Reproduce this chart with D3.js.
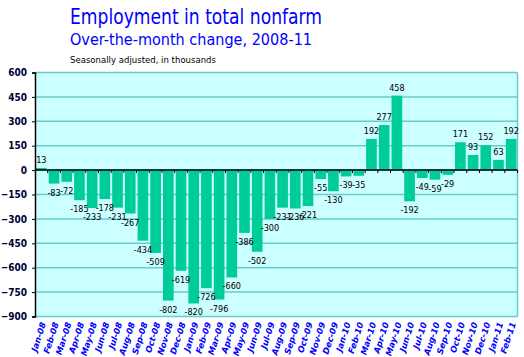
<!DOCTYPE html>
<html><head><meta charset="utf-8">
<script src="https://cdn.jsdelivr.net/npm/d3@7"></script>
<style>body{margin:0;background:#fff}svg{display:block}</style>
</head><body>
<svg id="c" width="524" height="357"></svg>
<script>
const months = ["Jan-08","Feb-08","Mar-08","Apr-08","May-08","Jun-08","Jul-08","Aug-08","Sep-08","Oct-08","Nov-08","Dec-08",
"Jan-09","Feb-09","Mar-09","Apr-09","May-09","Jun-09","Jul-09","Aug-09","Sep-09","Oct-09","Nov-09","Dec-09",
"Jan-10","Feb-10","Mar-10","Apr-10","May-10","Jun-10","Jul-10","Aug-10","Sep-10","Oct-10","Nov-10","Dec-10",
"Jan-11","Feb-11"];
const changes = [13,-83,-72,-185,-233,-178,-231,-267,-434,-509,-802,-619,
-820,-726,-796,-660,-386,-502,-300,-231,-236,-221,-55,-130,
-39,-35,192,277,458,-192,-49,-59,-29,171,93,152,63,192];
const yTicks = [600,450,300,150,0,-150,-300,-450,-600,-750,-900];
const titleText = "Employment in total nonfarm";
const subtitleText = "Over-the-month change, 2008-11";
const noteText = "Seasonally adjusted, in thousands";

const svg = d3.select("#c");
const font = "'DejaVu Sans', sans-serif";
const fontC = "'DejaVu Sans Condensed', 'DejaVu Sans', sans-serif";
const L = 35, R = 517.5, T = 72.5, B = 316.5;
const x = d3.scaleBand().domain(months).range([L, R]).paddingInner(0.16).paddingOuter(0.08);
const y = d3.scaleLinear().domain([-900, 600]).range([B, T]);

svg.append("rect").attr("x", L).attr("y", T).attr("width", R - L).attr("height", B - T).attr("fill", "#ccffff");

// grid
svg.append("g").selectAll("line").data(yTicks).join("line")
  .attr("x1", L).attr("x2", R).attr("y1", d => y(d)).attr("y2", d => y(d))
  .attr("stroke", "#66cccc").attr("stroke-width", 1.5);
svg.append("line").attr("x1", R).attr("x2", R).attr("y1", T).attr("y2", B).attr("stroke", "#66cccc").attr("stroke-width", 1.5);

// bars
svg.append("g").selectAll("rect").data(changes).join("rect")
  .attr("x", (d, i) => x(months[i]))
  .attr("width", x.bandwidth())
  .attr("y", d => y(Math.max(0, d)))
  .attr("height", d => Math.abs(y(d) - y(0)))
  .attr("fill", "#00cc99");

// zero line + ticks at band boundaries
svg.append("line").attr("x1", L).attr("x2", R).attr("y1", y(0)).attr("y2", y(0)).attr("stroke", "#000").attr("stroke-width", 1.5);
const step = x.step();
svg.append("g").selectAll("line").data(months).join("line")
  .attr("x1", (d) => x(d) + x.bandwidth() + step * 0.08).attr("x2", (d) => x(d) + x.bandwidth() + step * 0.08)
  .attr("y1", y(0)).attr("y2", y(0) + 3).attr("stroke", "#000").attr("stroke-width", 1);

// y axis
const yAxis = d3.axisLeft(y).tickValues(yTicks).tickSize(3).tickFormat(d3.format("d"));
const ga = svg.append("g").attr("transform", `translate(${L},0)`).call(yAxis);
ga.select(".domain").attr("stroke", "#000").attr("stroke-width", 1.5);
ga.selectAll(".tick line").attr("stroke", "#000");
ga.selectAll(".tick text").attr("font-family", fontC).attr("font-size", 10).attr("font-weight", "bold").attr("fill", "#000033").attr("x", -8);

// x axis labels
const xAxis = d3.axisBottom(x).tickSize(0);
const gx = svg.append("g").attr("transform", `translate(0,${B})`).call(xAxis);
gx.select(".domain").remove();
gx.selectAll(".tick text")
  .attr("font-family", font).attr("font-size", 8.5).attr("font-weight", "bold").attr("font-style", "italic")
  .attr("fill", "#0000ff").attr("text-anchor", "end")
  .attr("transform", "translate(2,6) rotate(-72)").attr("dy", "0.35em").attr("y", 0).attr("x", 0);

// value labels
svg.append("g").selectAll("text").data(changes).join("text")
  .attr("x", (d, i) => x(months[i]) + x.bandwidth() / 2)
  .attr("y", d => d >= 0 ? y(d) - 5 : y(d) + 12)
  .attr("text-anchor", "middle")
  .attr("font-family", fontC).attr("font-size", 9).attr("fill", "#000")
  .text(d => d);

// titles
svg.append("text").attr("x", 70).attr("y", 24).attr("font-family", font).attr("font-size", 21).attr("fill", "#0000ff")
  .attr("textLength", 252).attr("lengthAdjust", "spacingAndGlyphs").text(titleText);
svg.append("text").attr("x", 70).attr("y", 45).attr("font-family", font).attr("font-size", 16).attr("fill", "#0000ff")
  .attr("textLength", 242).attr("lengthAdjust", "spacingAndGlyphs").text(subtitleText);
svg.append("text").attr("x", 70).attr("y", 63).attr("font-family", font).attr("font-size", 9).attr("fill", "#000")
  .attr("textLength", 146).attr("lengthAdjust", "spacingAndGlyphs").text(noteText);
</script>
</body></html>
